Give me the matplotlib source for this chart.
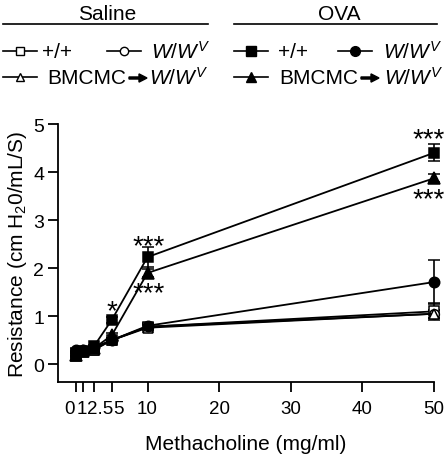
import matplotlib
matplotlib.use("Agg")
import matplotlib.pyplot as plt
from matplotlib.lines import Line2D
from matplotlib.patches import FancyArrow
import matplotlib.transforms as mtransforms

plt.rcParams['font.family'] = ['Liberation Sans', 'DejaVu Sans']
plt.rcParams['mathtext.fontset'] = 'custom'
plt.rcParams['mathtext.rm'] = 'Liberation Sans'
plt.rcParams['mathtext.it'] = 'Liberation Sans:italic'
plt.rcParams['mathtext.default'] = 'regular'

# ---- data ----
doses = [0, 1, 2.5, 5, 10, 50]
xticks = [0, 1, 2.5, 5, 10, 20, 30, 40, 50]
xticklabels = ['0', '1', '2.5', '5', '10', '20', '30', '40', '50']
yticks = [0, 1, 2, 3, 4, 5]

saline_wt = [0.18, 0.25, 0.30, 0.50, 0.78, 1.10]
saline_wt_err = [0.03, 0.03, 0.03, 0.04, 0.05, 0.17]
saline_wwv = [0.28, 0.28, 0.33, 0.50, 0.78, 1.05]
saline_wwv_err = [0.03, 0.03, 0.03, 0.04, 0.05, 0.08]
saline_bm = [0.20, 0.27, 0.30, 0.50, 0.76, 1.05]
saline_bm_err = [0.03, 0.03, 0.03, 0.04, 0.05, 0.08]

ova_wt = [0.20, 0.27, 0.37, 0.92, 2.23, 4.40]
ova_wt_err = [0.03, 0.03, 0.04, 0.06, 0.21, 0.18]
ova_wwv = [0.30, 0.30, 0.35, 0.50, 0.80, 1.71]
ova_wwv_err = [0.03, 0.03, 0.03, 0.04, 0.05, 0.45]
ova_bm = [0.20, 0.28, 0.33, 0.60, 1.90, 3.87]
ova_bm_err = [0.03, 0.03, 0.03, 0.05, 0.08, 0.08]

# significance annotations: (x, baseline y, text)
stars = [(5, 0.95, '*'), (10.1, 2.32, '***'), (10.1, 1.33, '***'),
         (49.2, 4.54, '***'), (49.2, 3.29, '***')]

W, H = 448, 456
fig = plt.figure(figsize=(W / 100, H / 100), dpi=100)
ax = fig.add_axes([58 / W, (H - 383) / H, (434 - 58) / W, (383 - 125) / H])

series = [
    (saline_wt, saline_wt_err, 's', 'white', 6.5),
    (saline_wwv, saline_wwv_err, 'o', 'white', 7),
    (saline_bm, saline_bm_err, '^', 'white', 7.5),
    (ova_wwv, ova_wwv_err, 'o', 'black', 7.5),
    (ova_bm, ova_bm_err, '^', 'black', 8),
    (ova_wt, ova_wt_err, 's', 'black', 7),
]
for y, e, m, fc, ms in series:
    ax.errorbar(doses, y, yerr=e, color='black', lw=1.3, marker=m, mfc=fc,
                mec='black', mew=1.1, ms=ms, capsize=4, capthick=1.2,
                elinewidth=1.2, clip_on=False, zorder=3)

for x, y, t in stars:
    ax.text(x, y, t, ha='center', va='baseline', fontsize=20)

ax.set_xlim(-2.5, 50)
ax.set_ylim(-0.37, 5)
ax.set_xticks(xticks)
ax.set_xticklabels(xticklabels)
ax.set_yticks(yticks)
for s in ['top', 'right']:
    ax.spines[s].set_visible(False)
for s in ['left', 'bottom']:
    ax.spines[s].set_linewidth(1.3)
ax.tick_params(direction='out', length=7, width=1.3, labelsize=13.5)
ax.tick_params(axis='x', pad=6)
ax.tick_params(axis='y', pad=3, labelsize=14)

# nudge crowded low-dose labels so they read side by side, as in the source
nudges = {'0': -6, '1': -1, '2.5': 6, '5': 7}
for lab in ax.get_xticklabels():
    dx = nudges.get(lab.get_text(), 0)
    if dx:
        lab.set_transform(lab.get_transform() +
                          mtransforms.ScaledTranslation(dx / 100, 0, fig.dpi_scale_trans))

ax.set_xlabel('Methacholine (mg/ml)', fontsize=15, labelpad=12)
ax.set_ylabel('Resistance (cm H$_2$0/mL/S)', fontsize=15, labelpad=3)

# ---- legend (drawn in figure pixels) ----
def fx(px):
    return px / W

def fy(py):
    return 1 - py / H

wwv = r'$\mathit{W/W}^{\mathit{V}}$'
fs = 15
fig.text(fx(107), fy(14), 'Saline', ha='center', va='center', fontsize=fs)
fig.text(fx(339), fy(14), 'OVA', ha='center', va='center', fontsize=fs)
fig.add_artist(Line2D([fx(3), fx(208)], [fy(25), fy(25)], color='black', lw=1.2))
fig.add_artist(Line2D([fx(234), fx(437)], [fy(25), fy(25)], color='black', lw=1.2))

items = [
    (3, 52, 's', 'white', [('+/+', 42)]),
    (107, 52, 'o', 'white', [(wwv, 151)]),
    (3, 78, '^', 'white', [('BMCMC', 47), (wwv, 149)]),
    (234, 52, 's', 'black', [('+/+', 278)]),
    (338, 52, 'o', 'black', [(wwv, 383)]),
    (234, 78, '^', 'black', [('BMCMC', 279), (wwv, 384)]),
]
for x0, yy, m, fc, texts in items:
    fig.add_artist(Line2D([fx(x0), fx(x0 + 34)], [fy(yy), fy(yy)], color='black', lw=1.2))
    ms = 6 if fc == 'white' else 7
    fig.add_artist(Line2D([fx(x0 + 17)], [fy(yy)], marker=m, mfc=fc, mec='black',
                          mew=1.0, ms=ms, color='black', lw=0))
    for label, tx in texts:
        fig.text(fx(tx), fy(yy), label, ha='left', va='center', fontsize=fs)

# arrows in "BMCMC -> W/W^V"
for ax0 in (129, 361):
    fig.add_artist(FancyArrow(fx(ax0), fy(79), fx(18), 0, width=0.0045,
                              head_width=0.018, head_length=fx(8),
                              length_includes_head=True, color='black',
                              transform=fig.transFigure))

fig.savefig('out.png', dpi=100)
